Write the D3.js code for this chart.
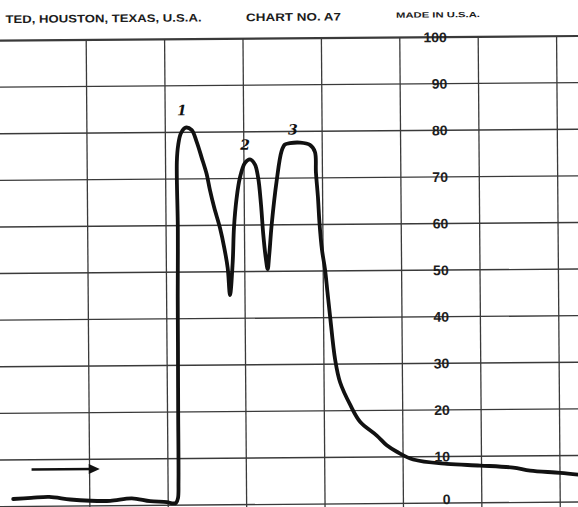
<!DOCTYPE html>
<html>
<head>
<meta charset="utf-8">
<script src="https://cdn.jsdelivr.net/npm/d3@7"></script>
<style>
  body { margin: 0; background: #fff; }
  svg { display: block; }
</style>
</head>
<body>
<svg id="chart"></svg>
<script>
// recorder trace, time in chart divisions, reading in % of scale
const times = [0.023, 0.253, 0.482, 0.750, 1.005, 1.260, 1.537, 1.770, 1.983, 2.047,
  2.100, 2.125, 2.133, 2.136, 2.140, 2.142, 2.150, 2.144, 2.163, 2.199,
  2.259, 2.335, 2.398, 2.460, 2.523, 2.563, 2.616, 2.688, 2.741, 2.782,
  2.809, 2.847, 2.866, 2.903, 2.946, 3.011, 3.077, 3.139, 3.180, 3.213,
  3.239, 3.268, 3.292, 3.313, 3.347, 3.415, 3.481, 3.524, 3.588, 3.716,
  3.843, 3.906, 3.917, 3.940, 3.957, 3.986, 4.023, 4.052, 4.083, 4.143,
  4.204, 4.335, 4.455, 4.667, 4.793, 4.921, 5.129, 5.561, 5.983, 6.403,
  6.620, 7.003, 7.26]
const readings = [1.6, 1.8, 2.0, 1.4, 1.1, 1.05, 1.55, 0.9, 0.7, 0.4,
  0.5, 1.5, 5, 20, 35, 45, 59.5, 73.7, 77.3, 79.8,
  81.0, 80.5, 78.0, 74.6, 71.0, 67.6, 63.8, 59.4, 55.1, 50.8,
  45.0, 52.2, 59.4, 65.8, 70.1, 73.3, 74.1, 73.0, 70.1, 64.4,
  58.0, 53.0, 50.5, 53.5, 60, 69.4, 75.8, 77.2, 77.5, 77.6,
  77.1, 75.6, 71.2, 65.9, 60.4, 54.6, 50.4, 45.5, 40.3, 31.0,
  26.1, 21.1, 17.6, 14.6, 12.5, 11.1, 9.4, 8.4, 8.0, 7.5,
  6.8, 6.3, 5.8]

const yTicks = [0, 10, 20, 30, 40, 50, 60, 70, 80, 90, 100]
const xGrid = [1, 2, 3, 4, 5, 6, 7]

const peakNames = ['1', '2', '3']
const peakLabelTimes = [2.212, 3.015, 3.628]
const peakLabelValues = [84.7, 77.2, 80.4]

const arrowTimes = [0.26, 1.13]
const arrowValue = 7.9

const headerTexts = ['TED, HOUSTON, TEXAS, U.S.A.', 'CHART NO. A7', 'MADE IN U.S.A.']

const width = 578
const height = 507

const svg = d3.select('#chart')
  .attr('width', width)
  .attr('height', height)

svg.append('rect').attr('width', width).attr('height', height).attr('fill', '#fff')

// the scan sits a little crooked
const paper = svg.append('g').attr('transform', 'rotate(-0.45,289,270)')

const xScale = d3.scaleLinear().domain([0, 7]).range([9.6, 558.4])
const yScale = d3.scaleLinear().domain([0, 100]).range([504.3, 38.3])

// header print
const header = paper.append('g')
  .attr('font-family', '"Liberation Sans", Arial, sans-serif')
  .attr('font-weight', 'bold')
  .attr('fill', '#1c1c1c')
header.append('text').text(headerTexts[0])
  .attr('x', 7.5).attr('y', 20.8).attr('font-size', 11)
  .attr('textLength', 196).attr('lengthAdjust', 'spacingAndGlyphs')
header.append('text').text(headerTexts[1])
  .attr('x', 248).attr('y', 20.8).attr('font-size', 11)
  .attr('textLength', 95).attr('lengthAdjust', 'spacingAndGlyphs')
header.append('text').text(headerTexts[2])
  .attr('x', 398).attr('y', 18.6).attr('font-size', 7.6)
  .attr('textLength', 84).attr('lengthAdjust', 'spacingAndGlyphs')

// grid
const grid = paper.append('g').attr('stroke', '#3a3a3a')
grid.selectAll('line.h')
  .data(yTicks)
  .enter()
  .append('line')
  .attr('class', 'h')
  .attr('x1', -12)
  .attr('x2', width + 12)
  .attr('y1', d => yScale(d))
  .attr('y2', d => yScale(d))
  .attr('stroke-width', d => d === 100 ? 2.2 : 1.4)

grid.selectAll('line.v')
  .data(xGrid)
  .enter()
  .append('line')
  .attr('class', 'v')
  .attr('x1', d => xScale(d))
  .attr('x2', d => xScale(d))
  .attr('y1', yScale(100))
  .attr('y2', height + 12)
  .attr('stroke-width', 1.3)

// scale numbers printed on the paper (bottom one lifted so it stays on the page)
paper.append('g')
  .selectAll('text')
  .data(yTicks)
  .enter()
  .append('text')
  .text(d => d)
  .attr('x', xScale(5.6))
  .attr('y', d => yScale(d) - (d === 0 ? 4 : 0))
  .attr('dy', '0.36em')
  .attr('text-anchor', 'end')
  .attr('font-family', '"Liberation Sans", Arial, sans-serif')
  .attr('font-weight', 'bold')
  .attr('font-size', 14)
  .attr('fill', '#1e1e1e')

// pen trace
const trace = times.map((t, i) => ({ t: t, v: readings[i] }))
const line = d3.line()
  .x(d => xScale(d.t))
  .y(d => yScale(d.v))
  .curve(d3.curveCatmullRom.alpha(0.5))

paper.append('path')
  .datum(trace)
  .attr('d', line)
  .attr('fill', 'none')
  .attr('stroke', '#111')
  .attr('stroke-width', 3.8)
  .attr('stroke-linejoin', 'round')
  .attr('stroke-linecap', 'round')

// hand written peak numbers
paper.append('g')
  .selectAll('text')
  .data(peakNames)
  .enter()
  .append('text')
  .text(d => d)
  .attr('x', (d, i) => xScale(peakLabelTimes[i]))
  .attr('y', (d, i) => yScale(peakLabelValues[i]))
  .attr('dy', '0.35em')
  .attr('text-anchor', 'middle')
  .attr('font-family', '"DejaVu Serif", serif')
  .attr('font-style', 'italic')
  .attr('font-weight', 'bold')
  .attr('font-size', 14)
  .attr('fill', '#111')

// start marker arrow
const ax0 = xScale(arrowTimes[0])
const ax1 = xScale(arrowTimes[1])
const ay = yScale(arrowValue)
paper.append('line')
  .attr('x1', ax0).attr('x2', ax1 - 8)
  .attr('y1', ay).attr('y2', ay)
  .attr('stroke', '#111')
  .attr('stroke-width', 2.4)
paper.append('path')
  .attr('d', `M${ax1},${ay} L${ax1 - 11},${ay - 5} L${ax1 - 11},${ay + 5} Z`)
  .attr('fill', '#111')
</script>
</body>
</html>
